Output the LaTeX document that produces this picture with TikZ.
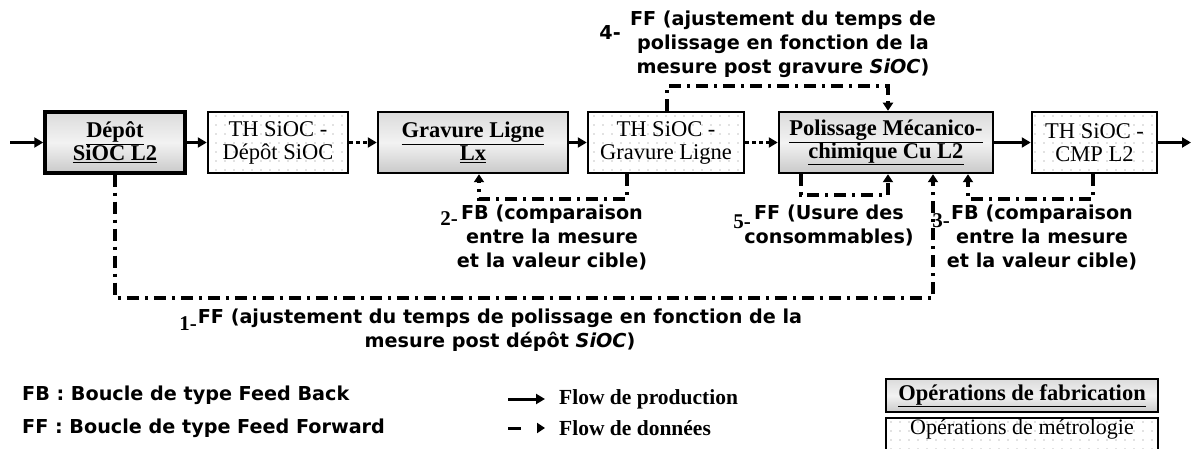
\documentclass[tikz,border=0pt]{standalone}
\usepackage{fontspec}
\setmainfont{Liberation Serif}
\newfontfamily\lblfont{DejaVu Sans}
\usetikzlibrary{arrows.meta,patterns.meta}
\tikzset{
  boxbase/.style={draw=black, inner sep=0pt, minimum height=61pt, align=center,
    font=\fontsize{22.5}{23}\selectfont},
  fab/.style={boxbase, line width=2.5pt, top color=gray!28, bottom color=gray!42, middle color=gray!10,
    font=\bfseries\fontsize{22.5}{23}\selectfont},
  metro/.style={boxbase, line width=2.5pt, fill=white,
    postaction={pattern={Dots[distance=9pt,radius=0.8pt]}, pattern color=gray!45}},
  prod/.style={line width=3pt, -{Triangle[length=9pt,width=10pt]}},
  dotflow/.style={line width=3.5pt, dash pattern=on 3.5pt off 3.5pt, -{Triangle[length=9pt,width=10pt]}},
  data/.style={line width=3.2pt, dash pattern=on 12pt off 6pt on 3pt off 6pt, -{Triangle[length=8pt,width=10pt]}},
  lbl/.style={font=\lblfont\bfseries\fontsize{19.2}{24}\selectfont, align=center, inner sep=0pt},
  num/.style={font=\bfseries\fontsize{21}{22}\selectfont, inner sep=0pt, anchor=east},
  leg/.style={font=\bfseries\fontsize{21.5}{22}\selectfont, inner sep=0pt, anchor=west},
}
\begin{document}
\begin{tikzpicture}[x=1pt,y=-1pt]
\clip (0,0) rectangle (1192,449);
\fill[white] (0,0) rectangle (1192,449);

% process boxes
\node[fab, line width=3.5pt, minimum width=140pt] (depot) at (115,142.5) {\underline{Dépôt}\\\underline{SiOC L2}};
\node[metro, minimum width=140pt] (th1) at (278,142.5) {TH SiOC -\\Dépôt SiOC};
\node[fab, minimum width=190pt] (grav) at (473,142.5) {\underline{Gravure Ligne}\\\underline{Lx}};
\node[metro, minimum width=156pt] (th2) at (666,142.5) {TH SiOC -\\Gravure Ligne};
\node[fab, minimum width=214pt] (pol) at (886,142.5) {\underline{Polissage Mécanico-}\\\underline{chimique Cu L2}};
\node[metro, minimum width=125pt] (th3) at (1094.5,142.5) {TH SiOC -\\CMP L2};

% production flow
\coordinate (in) at (10,142.5);
\coordinate (out) at (1191,142.5);
\draw[prod] (in) -- (depot.west);
\draw[prod] (depot) -- (th1);
\draw[dotflow] (th1) -- (grav);
\draw[prod] (grav) -- (th2);
\draw[dotflow] (th2) -- (pol);
\draw[prod] (pol) -- (th3);
\draw[prod] (th3) -- (out);

% loops
\coordinate (l1b) at (933,298);
\draw[data] (depot.south) |- (l1b) -- (pol.south -| l1b);
\coordinate (l2r) at (627,199);
\coordinate (l2l) at (479,199);
\draw[data] (th2.south -| l2r) -- (l2r) -- (l2l) -- (grav.south -| l2l);
\coordinate (l4l) at (667,86);
\coordinate (l4r) at (888,86);
\draw[data] (th2.north -| l4l) -- (l4l) -- (l4r) -- (pol.north -| l4r);
\coordinate (l5l) at (801,195);
\coordinate (l5r) at (888,195);
\draw[data] (pol.south -| l5l) -- (l5l) -- (l5r) -- (pol.south -| l5r);
\coordinate (l3r) at (1093,199);
\coordinate (l3l) at (968,199);
\draw[data] (th3.south -| l3r) -- (l3r) -- (l3l) -- (pol.south -| l3l);

% loop labels
\node[lbl] (t1) at (500,330) {FF (ajustement du temps de polissage en fonction de la\\mesure post dépôt \textit{SiOC})};
\node[num] (n1) at (197,324) {1-};
\node[lbl] (t2) at (552,237) {FB (comparaison\\entre la mesure\\et la valeur cible)};
\node[num] (n2) at (458,219) {2-};
\node[lbl] (t3) at (1042,237) {FB (comparaison\\entre la mesure\\et la valeur cible)};
\node[num] (n3) at (950,221) {3-};
\node[lbl] (t4) at (783,44) {FF (ajustement du temps de\\polissage en fonction de la\\mesure post gravure \textit{SiOC})};
\node[lbl, anchor=east] (n4) at (621,33) {4-};
\node[lbl] (t5) at (829,225) {FF (Usure des\\consommables)};
\node[num] (n5) at (751,222) {5-};

% legend
\node[lbl, anchor=west] (fb) at (22,395) {FB : Boucle de type Feed Back};
\node[lbl, anchor=west] (ff) at (22,428) {FF : Boucle de type Feed Forward};
\coordinate (pa) at (508,399);
\coordinate (pb) at (545,399);
\draw[prod] (pa) -- (pb);
\coordinate (da) at (508,428);
\coordinate (db) at (545,428);
\draw[line width=3pt, dash pattern=on 13pt off 30pt, -{Triangle[length=8pt,width=10pt]}] (da) -- (db);
\node[leg] (lp) at (559,399) {Flow de production};
\node[leg] (ld) at (559,428) {Flow de données};
\node[fab, line width=1.8pt, minimum width=272pt, minimum height=33pt] (lfab) at (1022,395.5) {\underline{Opérations de fabrication}};
\node[metro, line width=1.8pt, minimum width=272pt, minimum height=0pt, anchor=north,
  text height=17pt, text depth=25pt, font=\fontsize{22}{22}\selectfont] (lmet) at (1022,417) {Opérations de métrologie};
\end{tikzpicture}
\end{document}
